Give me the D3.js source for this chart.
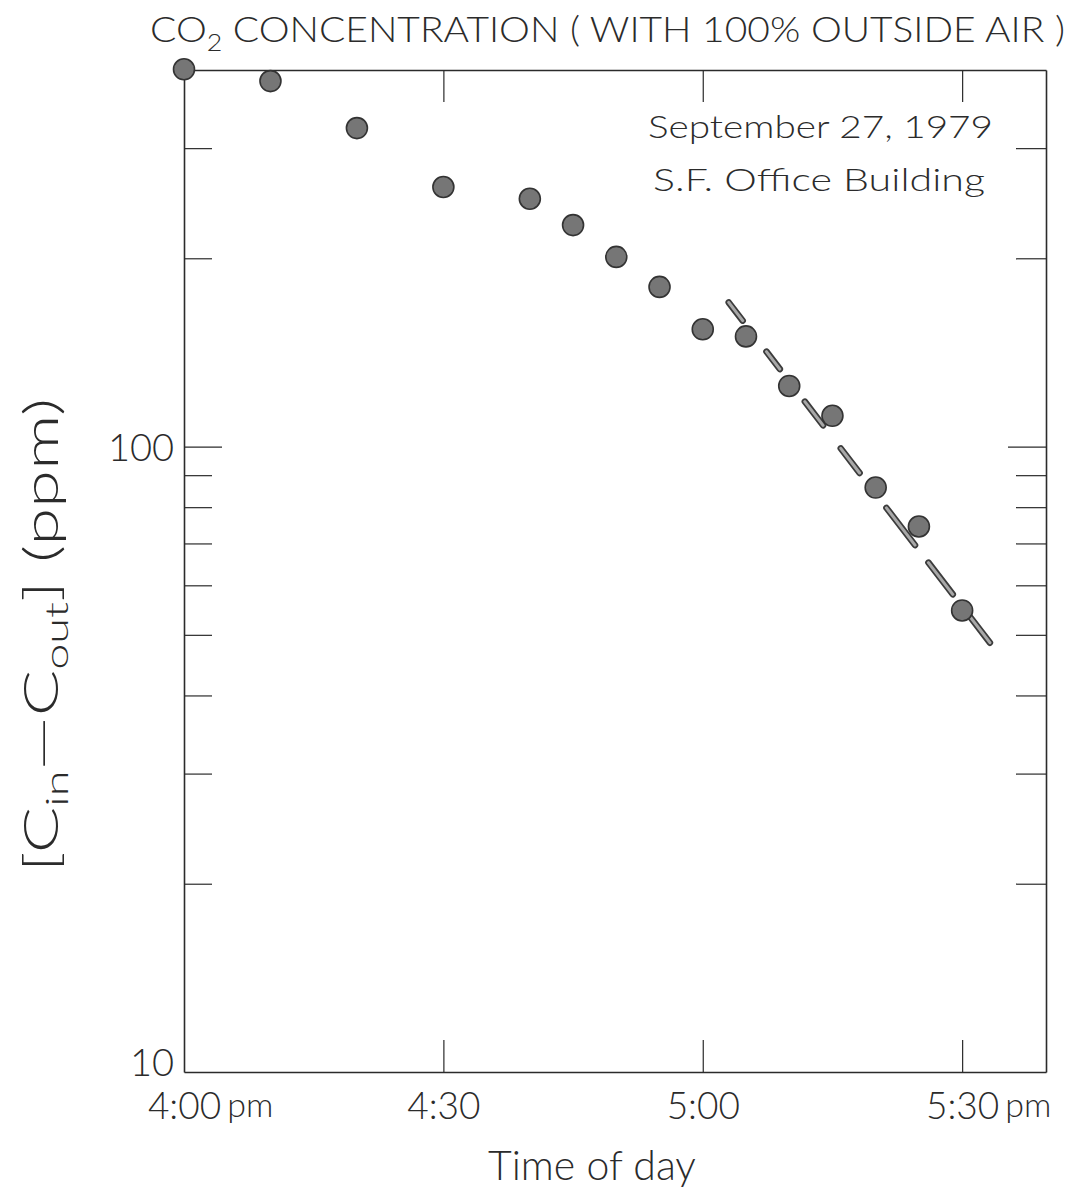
<!DOCTYPE html>
<html>
<head>
<meta charset="utf-8">
<script src="https://cdn.jsdelivr.net/npm/d3@7"></script>
<style>
body { margin: 0; background: #fff; }
text { font-family: Lato, "Open Sans", sans-serif; font-weight: 300; fill: #2b2b2b; }
</style>
</head>
<body>
<div id="chart"></div>
<script>
// minutes after 4:00 pm, CO2 difference in ppm
var minutes = [0, 10, 20, 30, 40, 45, 50, 55, 60, 65, 70, 75, 80, 85, 90];
var conc = [401, 384, 323, 260, 249, 226, 201, 180, 154, 150, 125, 112, 86, 74.5, 54.7];
// fitted decay line (end points)
var fitMinutes = [63, 93.5];
var fitConc = [170, 48];
var xTicks = [0, 30, 60, 90];
var xTickLabels = ["4:00", "4:30", "5:00", "5:30"];
var yTicks = [10, 20, 30, 40, 50, 60, 70, 80, 90, 100, 200, 300];
var yTickLabels = {10: "10", 100: "100"};

var margin = {top: 70, right: 35, bottom: 123, left: 184},
    W = 1081, H = 1195,
    width = W - margin.left - margin.right,
    height = H - margin.top - margin.bottom;

var svg = d3.select("#chart").append("svg")
    .attr("width", W).attr("height", H);

var g = svg.append("g")
    .attr("transform", "translate(" + margin.left + "," + margin.top + ")");

var x = d3.scaleLinear().domain([0, 99.7]).range([0, width]);
var y = d3.scaleLog().domain([10, 400]).range([height, 0]);

// axes (ticks pointing inward)
var axLeft = g.append("g")
    .call(d3.axisLeft(y).tickValues(yTicks).tickSizeInner(-28).tickSizeOuter(0).tickPadding(10)
	  .tickFormat(function(d) { return yTickLabels[d] || ""; }));
var axRight = g.append("g")
    .attr("transform", "translate(" + width + ",0)")
    .call(d3.axisRight(y).tickValues(yTicks).tickSizeInner(-30).tickSizeOuter(0)
	  .tickFormat(""));
var axBottom = g.append("g")
    .attr("transform", "translate(0," + height + ")")
    .call(d3.axisBottom(x).tickValues(xTicks).tickSizeInner(-32).tickSizeOuter(0).tickPadding(21)
	  .tickFormat(function(d, i) { return xTickLabels[i]; }));
var axTop = g.append("g")
    .call(d3.axisTop(x).tickValues(xTicks).tickSizeInner(-32).tickSizeOuter(0).tickFormat(""));

[axLeft, axRight, axBottom, axTop].forEach(function(a) {
    a.attr("font-family", null).attr("font-size", null);
    a.selectAll("path").attr("stroke", "#2b2b2b").attr("stroke-width", 1.6);
    a.selectAll("line").attr("stroke", "#2b2b2b").attr("stroke-width", 1.2);
    a.selectAll("text").attr("fill", "#2b2b2b");
});
axLeft.selectAll("text").attr("font-size", 38).attr("dy", "0.36em");
axLeft.selectAll(".tick").filter(function(d) { return d === 10; }).select("text").attr("dy", "0.1em");
axBottom.selectAll("text").attr("font-size", 37);
// longer tick at 100
axLeft.selectAll(".tick").filter(function(d) { return d === 100; }).select("line").attr("x2", 38);
axRight.selectAll(".tick").filter(function(d) { return d === 100; }).select("line").attr("x2", -38);
axLeft.selectAll(".tick").filter(function(d) { return d === 10; }).select("line").remove();
axRight.selectAll(".tick").filter(function(d) { return d === 10; }).select("line").remove();
axTop.selectAll(".tick").filter(function(d) { return d === 0; }).remove();
axBottom.selectAll(".tick").filter(function(d) { return d === 0; }).select("line").remove();

// "pm" after first and last time labels
axBottom.selectAll(".tick").filter(function(d, i) { return i === 0 || i === xTicks.length - 1; })
    .each(function() {
	var t = d3.select(this).select("text");
	var w = t.node().getComputedTextLength();
	d3.select(this).append("text")
	    .attr("x", w / 2 + 6)
	    .attr("y", t.attr("y"))
	    .attr("dy", "0.71em")
	    .attr("font-size", 34)
	    .attr("text-anchor", "start")
	    .attr("fill", "#2b2b2b")
	    .text("pm");
    });

// fitted dashed line (hand drawn, uneven dashes): dark outline with lighter core
var fit = fitMinutes.map(function(m, i) { return [x(m), y(fitConc[i])]; });
var fitLine = d3.line();
var dashes = "23,39,22,41,30,29,31,44,47,22,40,19,42,40";
g.append("path").attr("d", fitLine(fit))
    .attr("fill", "none").attr("stroke", "#3c3c3c").attr("stroke-width", 6.5)
    .attr("stroke-linecap", "round").attr("stroke-dasharray", dashes);
g.append("path").attr("d", fitLine(fit))
    .attr("fill", "none").attr("stroke", "#a8a8a8").attr("stroke-width", 3)
    .attr("stroke-linecap", "round").attr("stroke-dasharray", dashes);

// measured points
g.selectAll(".dot")
    .data(minutes)
    .enter()
    .append("circle")
    .attr("class", "dot")
    .attr("cx", function(d) { return x(d); })
    .attr("cy", function(d, i) { return y(conc[i]); })
    .attr("r", 10.5)
    .attr("fill", "#767676")
    .attr("stroke", "#333")
    .attr("stroke-width", 1.6);

// notes
g.append("text").attr("x", 464).attr("y", 68)
    .attr("font-size", 32).attr("textLength", 345).attr("lengthAdjust", "spacingAndGlyphs")
    .text("September 27, 1979");
g.append("text").attr("x", 469).attr("y", 121)
    .attr("font-size", 32).attr("textLength", 332).attr("lengthAdjust", "spacingAndGlyphs")
    .text("S.F. Office Building");

// title
var title = svg.append("text").attr("x", 150).attr("y", 42)
    .attr("font-size", 35).attr("textLength", 915).attr("lengthAdjust", "spacingAndGlyphs");
title.append("tspan").text("CO");
title.append("tspan").attr("font-size", 24).attr("dy", 9).text("2");
title.append("tspan").attr("dy", -9).text(" CONCENTRATION ( WITH 100% OUTSIDE AIR )");

// x label
svg.append("text").attr("x", 592).attr("y", 1180)
    .attr("text-anchor", "middle").attr("font-size", 41)
    .text("Time of day");

// y label
var yl = svg.append("text")
    .attr("transform", "translate(58,635) rotate(-90)")
    .attr("text-anchor", "middle").attr("font-size", 47)
    .attr("textLength", 474).attr("lengthAdjust", "spacingAndGlyphs");
yl.append("tspan").text("[C");
yl.append("tspan").attr("font-size", 32).attr("dy", 10).text("in");
yl.append("tspan").attr("dy", -10).text("\u2014C");
yl.append("tspan").attr("font-size", 32).attr("dy", 10).text("out");
yl.append("tspan").attr("dy", -10).text("]  (ppm)");
</script>
</body>
</html>
